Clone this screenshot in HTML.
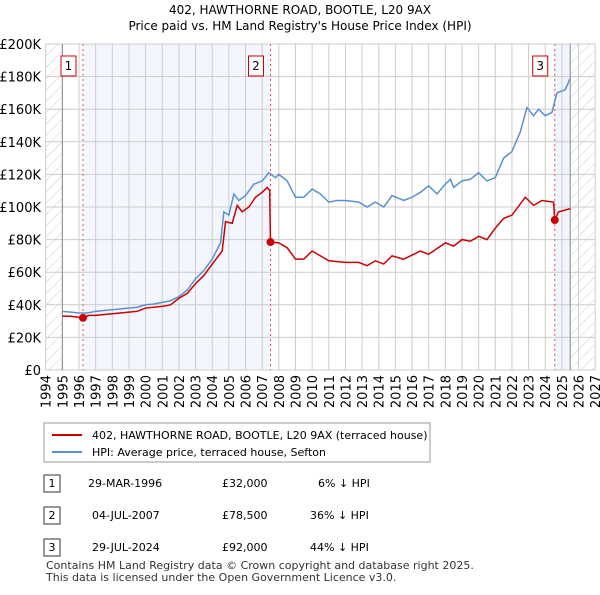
<!DOCTYPE html>
<html><head><meta charset="utf-8"><style>
body{margin:0;background:#fff;font-family:"Liberation Sans","DejaVu Sans",sans-serif;}
svg text{font-family:"DejaVu Sans","Liberation Sans",sans-serif;}
</style></head><body>
<svg id="chart" width="600" height="590" xmlns="http://www.w3.org/2000/svg">
<defs><pattern id="hatch" width="8" height="8" patternUnits="userSpaceOnUse" patternTransform="rotate(45)"><line x1="0" y1="0" x2="0" y2="8" stroke="#ccc" stroke-width="1"/></pattern></defs>
<text x="300" y="14" text-anchor="middle" font-size="12">402, HAWTHORNE ROAD, BOOTLE, L20 9AX</text>
<text x="300" y="30" text-anchor="middle" font-size="12">Price paid vs. HM Land Registry's House Price Index (HPI)</text>
<g id="plot"></g>
<g>
<rect x="44" y="423" width="386" height="39" fill="#fff" stroke="#999"/>
<line x1="52" y1="435" x2="82" y2="435" stroke="#cc0000" stroke-width="2"/>
<text x="92" y="439" font-size="11">402, HAWTHORNE ROAD, BOOTLE, L20 9AX (terraced house)</text>
<line x1="52" y1="452" x2="82" y2="452" stroke="#5b8fd0" stroke-width="2"/>
<text x="92" y="456" font-size="11">HPI: Average price, terraced house, Sefton</text>
</g>
<g font-size="11">
<rect x="44" y="475" width="16" height="17" fill="#fff" stroke="#333"/><text x="52" y="487" text-anchor="middle">1</text>
<text x="88" y="487">29-MAR-1996</text><text x="222" y="487">£32,000</text><text x="318" y="487">6% ↓ HPI</text>
<rect x="44" y="507" width="16" height="17" fill="#fff" stroke="#333"/><text x="52" y="519" text-anchor="middle">2</text>
<text x="92" y="519">04-JUL-2007</text><text x="222" y="519">£78,500</text><text x="310" y="519">36% ↓ HPI</text>
<rect x="44" y="539" width="16" height="17" fill="#fff" stroke="#333"/><text x="52" y="551" text-anchor="middle">3</text>
<text x="92" y="551">29-JUL-2024</text><text x="222" y="551">£92,000</text><text x="310" y="551">44% ↓ HPI</text>
</g>
<text x="46" y="569" font-size="11" fill="#333">Contains HM Land Registry data © Crown copyright and database right 2025.</text>
<text x="46" y="581" font-size="11" fill="#333">This data is licensed under the Open Government Licence v3.0.</text>
</svg>
<script>
const hpiYears=[1995,1995.5,1996,1996.5,1997,1997.5,1998,1998.5,1999,1999.5,2000,2000.5,2001,2001.5,2002,2002.5,2003,2003.5,2004,2004.5,2004.7,2005,2005.3,2005.6,2006,2006.5,2007,2007.4,2007.8,2008,2008.5,2009,2009.5,2010,2010.5,2011,2011.5,2012,2012.8,2013.3,2013.8,2014.3,2014.8,2015.5,2016,2016.5,2017,2017.5,2018,2018.3,2018.5,2019,2019.5,2020,2020.5,2021,2021.5,2022,2022.5,2022.9,2023.3,2023.6,2024,2024.4,2024.7,2025.2,2025.5];
const hpiValues=[36,35.5,35,35,36,36.5,37,37.5,38,38.5,40,40.5,41.5,42.5,45,49,56,61,68,78,97,95,108,104,107,114,116,121,118,120,116,106,106,111,108,103,104,104,103,100,103,100,107,104,106,109,113,108,114,117,112,116,117,121,116,118,130,134,146,161,156,160,156,158,170,172,179];
const ppYears=[1995,1995.5,1996.24,1996.6,1997,1998,1999,1999.5,2000,2001,2001.5,2002,2002.5,2003,2003.5,2004,2004.6,2004.8,2005.2,2005.5,2005.8,2006.2,2006.6,2007,2007.3,2007.45,2007.5,2008,2008.5,2009,2009.5,2010,2010.5,2011,2012,2012.8,2013.3,2013.8,2014.3,2014.8,2015.5,2016.5,2017,2018,2018.5,2019,2019.5,2020,2020.5,2021,2021.5,2022,2022.8,2023.3,2023.8,2024.5,2024.57,2024.8,2025.5];
const ppValues=[33,33,32,33.5,33.5,34.5,35.5,36,38,39,40,44,47,53,58,65,73,91,90,101,97,100,106,109,112,110,78.5,78,75,68,68,73,70,67,66,66,64,67,65,70,68,73,71,78,76,80,79,82,80,87,93,95,106,101,104,103,92,97,99];
const saleYears=[1996.24,2007.5,2024.57];
const saleValues=[32,78.5,92];
const saleLabels=["1","2","3"];
const yTicks=[0,20,40,60,80,100,120,140,160,180,200];
const xTicks=[1994,1995,1996,1997,1998,1999,2000,2001,2002,2003,2004,2005,2006,2007,2008,2009,2010,2011,2012,2013,2014,2015,2016,2017,2018,2019,2020,2021,2022,2023,2024,2025,2026,2027];
const L=45.7,R=595.2,T=44,B=370;
const X=y=>L+(y-1994)/33*(R-L);
const Y=v=>B-v/200*(B-T);
const NS="http://www.w3.org/2000/svg";
const g=document.getElementById('plot');
function mk(tag,attrs){const e=document.createElementNS(NS,tag);for(const k in attrs)e.setAttribute(k,attrs[k]);g.appendChild(e);return e;}
let e;
e=mk('rect',{x:X(1996.24),y:T,width:X(2007.5)-X(1996.24),height:B-T,fill:'#eef3fc',opacity:0.7});


e=mk('rect',{x:X(2024.57),y:T,width:X(2025.5)-X(2024.57),height:B-T,fill:'#eef3fc',opacity:0.9});


e=mk('rect',{x:L,y:T,width:X(1995)-L,height:B-T,fill:'url(#hatch)'});


e=mk('rect',{x:X(2025.5),y:T,width:R-X(2025.5),height:B-T,fill:'url(#hatch)'});


yTicks.forEach(v=>{
 e=mk('line',{x1:L,x2:R,y1:Y(v),y2:Y(v),stroke:'#ccc'});
 
 
 e=mk('text',{x:41,y:Y(v)+5,'text-anchor':'end','font-size':13});
 e.textContent=v===0?'£0':'£'+v+'K';
 
 
});
xTicks.forEach(yr=>{
 e=mk('line',{x1:X(yr),x2:X(yr),y1:T,y2:B,stroke:'#ccc'});
 
 
 const tx=X(yr)+5,ty=375;
 e=mk('text',{x:tx,y:ty,'text-anchor':'end','font-size':13,transform:'rotate(-90 '+tx+' '+ty+')'});
 e.textContent=yr;
 
 
});
e=mk('line',{x1:X(1995),x2:X(1995),y1:T,y2:B,stroke:'#888'});


e=mk('line',{x1:X(2025.5),x2:X(2025.5),y1:T,y2:B,stroke:'#888'});


saleYears.forEach((yr,i)=>{
 e=mk('line',{x1:X(yr),x2:X(yr),y1:T,y2:B,stroke:'#f05050','stroke-dasharray':'2,3'});
 
 
 e=mk('rect',{x:X(yr)-22,y:56,width:15,height:20,fill:'#fff',stroke:'#cc0000'});
 
 
 e=mk('text',{x:X(yr)-14.5,y:70,'text-anchor':'middle','font-size':12});
 e.textContent=saleLabels[i];
 
 
});
e=mk('polyline',{points:hpiYears.map((y,i)=>X(y)+','+Y(hpiValues[i])).join(' '),fill:'none',stroke:'#5b8fd0','stroke-width':1.5});


e=mk('polyline',{points:ppYears.map((y,i)=>X(y)+','+Y(ppValues[i])).join(' '),fill:'none',stroke:'#cc0000','stroke-width':1.5});


saleYears.forEach((yr,i)=>{
 e=mk('circle',{cx:X(yr),cy:Y(saleValues[i]),r:4,fill:'#cc0000'});
 
 
});
</script>
</body></html>
